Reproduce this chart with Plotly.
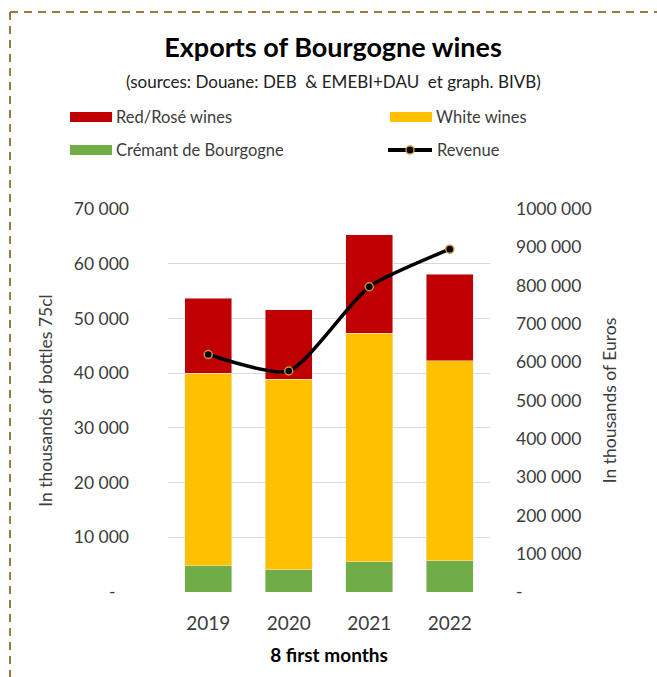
import plotly.graph_objects as go

# ---------------- data ----------------
years = ["2019", "2020", "2021", "2022"]
cremant = [4800, 4100, 5500, 5700]          # thousands of bottles
white = [35200, 34800, 41800, 36600]
red = [13700, 12700, 18000, 15800]
revenue = [620000, 577000, 797000, 895000]  # thousands of euros

left_tickvals = [0, 10000, 20000, 30000, 40000, 50000, 60000, 70000]
left_ticktext = ["-\u00a0\u00a0\u00a0", "10 000", "20 000", "30 000", "40 000", "50 000", "60 000", "70 000"]
right_tickvals = [0, 100000, 200000, 300000, 400000, 500000, 600000, 700000, 800000, 900000, 1000000]
right_ticktext = ["-", "100 000", "200 000", "300 000", "400 000", "500 000", "600 000",
                  "700 000", "800 000", "900 000", "1000 000"]

series_names = ["Red/Rosé wines", "White wines", "Crémant de Bourgogne", "Revenue"]
C_RED, C_WHITE, C_GREEN = "#c00000", "#ffc000", "#70ad47"
C_BORDER = "#9c7a42"
FONT = "Lato"
TXT = "#3c3c3c"

W, H = 657, 677
L, R, T, B = 168, 490, 209, 592


def px(x):
    return (x - L) / (R - L)


def py(y):
    return (B - y) / (B - T)


fig = go.Figure()
fig.add_trace(go.Bar(x=years, y=cremant, name=series_names[2], marker_color=C_GREEN))
fig.add_trace(go.Bar(x=years, y=white, name=series_names[1], marker_color=C_WHITE))
fig.add_trace(go.Bar(x=years, y=red, name=series_names[0], marker_color=C_RED))
fig.add_trace(go.Scatter(x=years, y=revenue, name=series_names[3], yaxis="y2",
                         mode="lines+markers",
                         line=dict(color="black", width=3.5, shape="spline", smoothing=0.6),
                         marker=dict(size=8, color="black", line=dict(color="#c8913c", width=1.5))))

shapes = []
annotations = []

# dashed frame (top and left edges visible)
shapes.append(dict(type="line", xref="paper", yref="paper", x0=px(10), x1=px(W + 5), y0=py(12), y1=py(12),
                   line=dict(color=C_BORDER, width=2, dash="8px,6px")))
shapes.append(dict(type="line", xref="paper", yref="paper", x0=px(10), x1=px(10), y0=py(12), y1=py(H + 5),
                   line=dict(color=C_BORDER, width=2, dash="8px,6px")))

# manual legend
legend_items = [
    (series_names[0], C_RED, 70, 117),
    (series_names[1], C_WHITE, 390, 117),
    (series_names[2], C_GREEN, 70, 150),
]
for name, col, x0, yc in legend_items:
    shapes.append(dict(type="rect", xref="paper", yref="paper", x0=px(x0), x1=px(x0 + 42),
                       y0=py(yc - 5), y1=py(yc + 5), line=dict(width=0), fillcolor=col))
    annotations.append(dict(text=name, xref="paper", yref="paper", x=px(x0 + 44), y=py(yc),
                            xanchor="left", yanchor="middle", showarrow=False,
                            font=dict(family=FONT, size=16.5, color=TXT)))
# revenue legend entry
shapes.append(dict(type="line", xref="paper", yref="paper", x0=px(388), x1=px(432), y0=py(150), y1=py(150),
                   line=dict(color="black", width=4)))
shapes.append(dict(type="circle", xref="paper", yref="paper", x0=px(406), x1=px(414), y0=py(146), y1=py(154),
                   line=dict(color="#c8913c", width=1.5), fillcolor="black"))
annotations.append(dict(text=series_names[3], xref="paper", yref="paper", x=px(435), y=py(150),
                        xanchor="left", yanchor="middle", showarrow=False,
                        font=dict(family=FONT, size=16.5, color=TXT)))

# subtitle
annotations.append(dict(text="(sources: Douane: DEB  &amp; EMEBI+DAU  et graph. BIVB)", xref="paper", yref="paper",
                        x=px(333), y=py(81), xanchor="center", yanchor="middle", showarrow=False,
                        font=dict(family=FONT, size=17, color="#222222")))

fig.update_layout(
    width=W, height=H,
    margin=dict(l=L, r=W - R, t=T, b=H - B, pad=0),
    paper_bgcolor="white", plot_bgcolor="white",
    barmode="stack", bargap=0.42,
    showlegend=False,
    font=dict(family=FONT, color=TXT),
    title=dict(text="<b>Exports of Bourgogne wines</b>", x=333 / W, xanchor="center",
               y=1 - 48 / H, yanchor="middle", font=dict(family=FONT, size=27, color="black")),
    xaxis=dict(showline=False, ticks="", tickfont=dict(size=19, color=TXT), ticklabelstandoff=18,
               title=dict(text="<b>8 first months</b>", font=dict(size=19, color="black"), standoff=15)),
    yaxis=dict(range=[0, 70000], tickvals=left_tickvals, ticktext=left_ticktext,
               showgrid=True, gridcolor="#d9d9d9", gridwidth=1, zeroline=False,
               tickfont=dict(size=17.5, color=TXT), ticklabelstandoff=38,
               title=dict(text="In thousands of bottles 75cl", font=dict(size=17.5, color=TXT), standoff=16)),
    yaxis2=dict(range=[0, 1000000], tickvals=right_tickvals, ticktext=right_ticktext,
                overlaying="y", side="right", showgrid=False, zeroline=False,
                tickfont=dict(size=17.5, color=TXT), ticklabelstandoff=25,
                title=dict(text="In thousands of Euros", font=dict(size=17.5, color=TXT), standoff=13)),
    shapes=shapes,
    annotations=annotations,
)

fig.write_html("out.html")
